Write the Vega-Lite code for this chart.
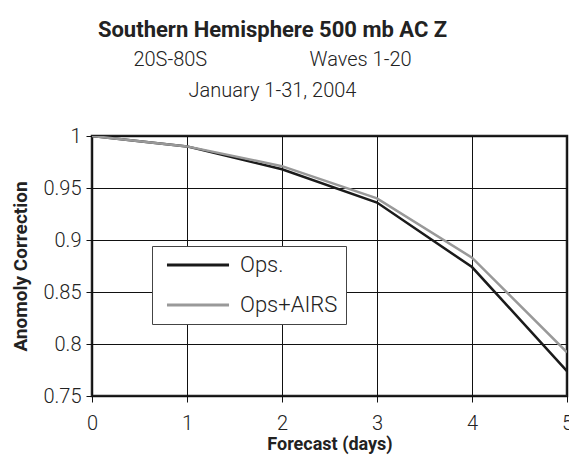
{
  "$schema": "https://vega.github.io/schema/vega-lite/v6.json",
  "autosize": "none",
  "width": 475,
  "height": 260,
  "padding": {"left": 92, "top": 136, "right": 2, "bottom": 64},
  "background": "white",
  "title": {
    "text": "Southern Hemisphere 500 mb AC Z",
    "subtitle": ["20S-80S\u00a0\u00a0\u00a0\u00a0\u00a0\u00a0\u00a0\u00a0\u00a0\u00a0\u00a0\u00a0\u00a0\u00a0\u00a0\u00a0\u00a0\u00a0\u00a0\u00a0\u00a0Waves 1-20", "January 1-31, 2004"],
    "anchor": "middle",
    "frame": "group",
    "dx": -57,
    "offset": 24,
    "font": "Roboto",
    "fontSize": 22,
    "fontWeight": "bold",
    "color": "#222",
    "subtitleFont": "Roboto",
    "subtitleFontWeight": 300,
    "subtitleFontSize": 20,
    "subtitleColor": "#222",
    "subtitleLineHeight": 31,
    "subtitlePadding": 8
  },
  "data": {
    "values": [
      {"day": 0, "value": 1.0, "series": "Ops."},
      {"day": 1, "value": 0.99, "series": "Ops."},
      {"day": 2, "value": 0.968, "series": "Ops."},
      {"day": 3, "value": 0.936, "series": "Ops."},
      {"day": 4, "value": 0.874, "series": "Ops."},
      {"day": 5, "value": 0.774, "series": "Ops."},
      {"day": 0, "value": 1.0, "series": "Ops+AIRS"},
      {"day": 1, "value": 0.99, "series": "Ops+AIRS"},
      {"day": 2, "value": 0.971, "series": "Ops+AIRS"},
      {"day": 3, "value": 0.94, "series": "Ops+AIRS"},
      {"day": 4, "value": 0.883, "series": "Ops+AIRS"},
      {"day": 5, "value": 0.792, "series": "Ops+AIRS"}
    ]
  },
  "mark": {"type": "line", "strokeWidth": 2.5, "clip": true},
  "encoding": {
    "x": {
      "field": "day", "type": "quantitative",
      "scale": {"domain": [0, 5], "nice": false},
      "axis": {
        "title": "Forecast (days)",
        "values": [0, 1, 2, 3, 4, 5],
        "grid": true, "gridColor": "#111", "gridOpacity": 1, "gridWidth": 1,
        "domain": false,
        "ticks": true, "tickColor": "#111", "tickSize": 6, "tickWidth": 1,
        "labelFont": "Roboto", "labelFontWeight": 300, "labelFontSize": 20, "labelColor": "#222",
        "labelPadding": 11, "labelFlush": false, "labelOverlap": false,
        "titleFont": "Roboto", "titleFontSize": 18, "titleFontWeight": "bold", "titleColor": "#222",
        "titlePadding": 2
      }
    },
    "y": {
      "field": "value", "type": "quantitative",
      "scale": {"domain": [0.75, 1], "nice": false, "zero": false},
      "axis": {
        "title": "Anomoly Correction",
        "values": [0.75, 0.8, 0.85, 0.9, 0.95, 1],
        "format": ".2~f",
        "grid": true, "gridColor": "#111", "gridOpacity": 1, "gridWidth": 1,
        "domain": false,
        "ticks": true, "tickColor": "#111", "tickSize": 6, "tickWidth": 1,
        "labelFont": "Roboto", "labelFontWeight": 300, "labelFontSize": 20, "labelColor": "#222",
        "labelPadding": 5, "labelOverlap": false,
        "titleFont": "Roboto", "titleFontSize": 19, "titleFontWeight": "bold", "titleColor": "#222",
        "titlePadding": 12
      }
    },
    "color": {
      "field": "series", "type": "nominal",
      "scale": {"domain": ["Ops.", "Ops+AIRS"], "range": ["#1a1a1a", "#999999"]},
      "legend": {
        "title": null,
        "orient": "none",
        "legendX": 60,
        "legendY": 110,
        "fillColor": "white",
        "strokeColor": "#444",
        "padding": 8,
        "symbolType": "M-5.17,0H5.17",
        "symbolSize": 144,
        "symbolOffset": 27,
        "symbolStrokeWidth": 3,
        "labelFont": "Roboto",
        "labelFontWeight": 300,
        "labelFontSize": 22,
        "labelColor": "#222",
        "labelOffset": 31,
        "rowPadding": 18
      }
    }
  },
  "config": {
    "view": {"stroke": "#222", "strokeWidth": 2.5}
  }
}
